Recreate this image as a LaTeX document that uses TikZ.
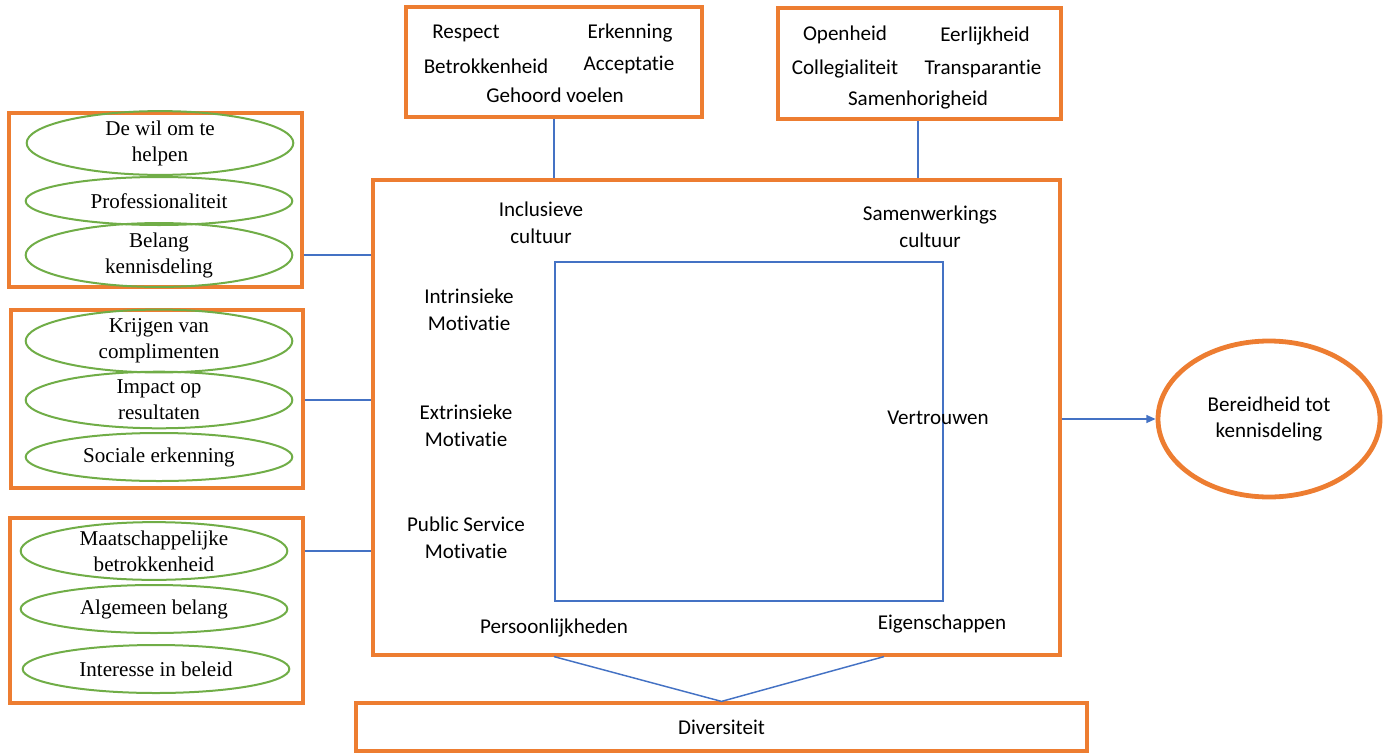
\documentclass[tikz,border=0pt]{standalone}
\usepackage{fontspec}
\setmainfont[Ligatures={NoCommon}]{Carlito}
\newfontfamily\timesfont{Liberation Serif}
\usetikzlibrary{calc,positioning,shapes.geometric,arrows.meta}
\definecolor{boxorange}{HTML}{ED7D31}
\definecolor{linkblue}{HTML}{4472C4}
\definecolor{ovalgreen}{HTML}{70AD47}

\begin{document}
\begin{tikzpicture}[x=0.75pt, y=-0.75pt,
        framebox/.style={draw=boxorange, line width=2.4pt, inner sep=0pt},
        oval/.style={ellipse, draw=ovalgreen, line width=1.5pt, inner sep=0pt,
          minimum width=200pt, minimum height=36pt, align=center,
          font=\timesfont\fontsize{15.8}{19.5}\selectfont},
        lbl/.style={align=center, yshift=-1.5pt, font=\fontsize{15.8}{20.2}\selectfont},
        link/.style={draw=linkblue, line width=1.1pt},
      ]
      \useasboundingbox (0,0) rectangle (1391,753);

      % left boxes with ovals
      \node[framebox, minimum width=219.75pt, minimum height=130.5pt] (wil) at (155.5,200) {};
      \node[oval] (helpen) at (160,143) {De wil om te\\helpen};
      \node[oval] (prof) at (159,201) {Professionaliteit};
      \node[oval] (belang) at (159,255) {Belang\\kennisdeling};

      \node[framebox, minimum width=219pt, minimum height=133.5pt] (erk) at (157,399) {};
      \node[oval] (compl) at (159,341) {Krijgen van\\complimenten};
      \node[oval] (impact) at (159,400) {Impact op\\resultaten};
      \node[oval] (sociaal) at (159,457) {Sociale erkenning};

      \node[framebox, minimum width=219.75pt, minimum height=138.75pt] (maat) at (156.5,610.5) {};
      \node[oval] (betrok) at (154,551) {Maatschappelijke\\betrokkenheid};
      \node[oval] (algemeen) at (154,609) {Algemeen belang};
      \node[oval] (interesse) at (156,669) {Interesse in beleid};

      % top boxes
      \node[framebox, minimum width=222pt, minimum height=82.5pt] (incl) at (554,62) {};
      \node[lbl] at (466,31) {Respect};
      \node[lbl] at (630,31) {Erkenning};
      \node[lbl] at (486,64) {Betrokkenheid};
      \node[lbl] at (629,63) {Acceptatie};
      \node[lbl] at (555,93) {Gehoord voelen};

      \node[framebox, minimum width=212.25pt, minimum height=83.25pt] (samen) at (919.5,63.5) {};
      \node[lbl] at (845,33) {Openheid};
      \node[lbl] at (985,34) {Eerlijkheid};
      \node[lbl] at (845,67) {Collegialiteit};
      \node[lbl] at (983,67) {Transparantie};
      \node[lbl] at (918,98) {Samenhorigheid};

      % main box
      \node[framebox, minimum width=515.25pt, minimum height=356.25pt] (main) at (716.5,417.5) {};
      \node[draw=linkblue, line width=1.1pt, inner sep=0pt,
        minimum width=291pt, minimum height=254.25pt] (vierkant) at (749,431.5) {};
      \node[lbl] at (541,221) {Inclusieve\\cultuur};
      \node[lbl] at (930,225) {Samenwerkings\\cultuur};
      \node[lbl] at (469,308) {Intrinsieke\\Motivatie};
      \node[lbl] at (466,424) {Extrinsieke\\Motivatie};
      \node[lbl] at (466,536) {Public Service\\Motivatie};
      \node[lbl] at (938,416) {Vertrouwen};
      \node[lbl] at (554,626) {Persoonlijkheden};
      \node[lbl] at (942,622) {Eigenschappen};

      % outcome and diversity
      \node[ellipse, draw=boxorange, line width=3.6pt, inner sep=0pt,
        minimum width=166.5pt, minimum height=117pt, lbl, yshift=1.5pt] (bereid) at (1269,419)
        {Bereidheid tot\\kennisdeling};
      \node[framebox, minimum width=548.25pt, minimum height=36pt,
        font=\fontsize{15.8}{20.2}\selectfont] (div) at (721.5,727) {\raisebox{-1.5pt}{Diversiteit}};

      % connectors
      \draw[link] (wil.east |- belang) -- (belang -| main.west);
      \draw[link] (erk.east |- impact) -- (impact -| main.west);
      \draw[link] (maat.east |- betrok) -- (betrok -| main.west);
      \draw[link] (incl.south) -- (incl.south |- main.north);
      \draw[link] (samen.south -| 918,0) -- (main.north -| 918,0);
      \draw[link, -{Triangle[length=7pt, width=6pt]}] (main.east |- bereid) -- (bereid.west);
      \coordinate (links) at (main.south -| 554,0);
      \coordinate (rechts) at (main.south -| 884,0);
      \draw[link] (links) -- (div.north) -- (rechts);
    \end{tikzpicture}
\end{document}
